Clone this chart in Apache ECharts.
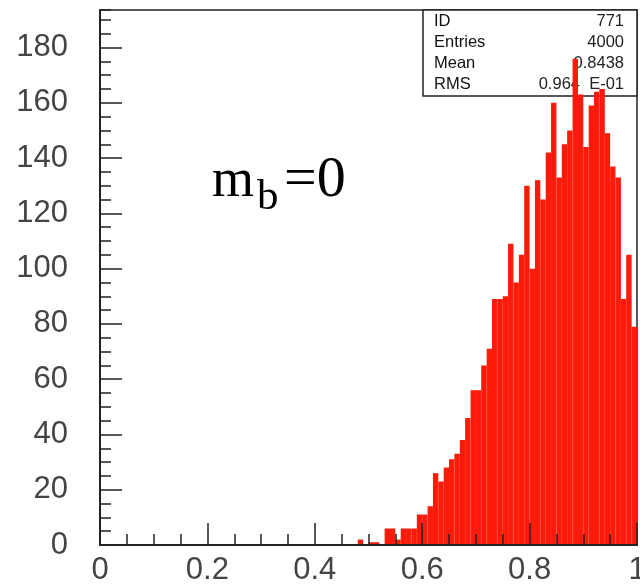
<!DOCTYPE html>
<html>
<head>
<meta charset="utf-8">
<script src="https://cdn.jsdelivr.net/npm/echarts@6/dist/echarts.min.js"></script>
<style>
  html, body { margin: 0; padding: 0; background: #fff; }
  #main { width: 640px; height: 588px; }
</style>
</head>
<body>
<div id="main"></div>
<script>
// histogram 771: 100 bins on [0,1], counts per bin
var binCounts = [
  0, 0, 0, 0, 0, 0, 0, 0, 0, 0,
  0, 0, 0, 0, 0, 0, 0, 0, 0, 0,
  0, 0, 0, 0, 0, 0, 0, 0, 0, 0,
  0, 0, 0, 0, 0, 0, 0, 0, 0, 0,
  0, 0, 0, 0, 0, 0, 0, 0, 2, 0,
  1, 1, 0, 6, 6, 2, 6, 6, 6, 11,
  11, 14, 26, 23, 28, 31, 33, 38, 46, 56,
  56, 65, 71, 89, 89, 90, 109, 95, 105, 130,
  100, 132, 125, 142, 160, 133, 145, 150, 176, 163,
  144, 159, 164, 165, 149, 137, 133, 89, 105, 79
];
var xTicks = [0, 0.2, 0.4, 0.6, 0.8, 1];
var yTicks = [0, 20, 40, 60, 80, 100, 120, 140, 160, 180];
var statNames = ['ID', 'Entries', 'Mean', 'RMS'];
var statValues = ['771', '4000', '0.8438', '0.964  E-01'];

var nBins = binCounts.length;
var binNames = [];
for (var i = 0; i < nBins; i++) {
  binNames.push(((i + 0.5) / nBins).toFixed(3));
}
var yMax = 193.6;

var axisColor = '#222';
var barColor = '#fc1a0a';
var labelStyle = { color: '#444', fontSize: 31, fontFamily: 'Liberation Sans' };

var myChart = echarts.init(document.getElementById('main'));

// stats box in the top right corner
var statsGraphics = [{
  type: 'rect',
  shape: { x: 423, y: 10, width: 214, height: 86 },
  style: { fill: '#fff', stroke: axisColor, lineWidth: 1.5 },
  z: 1
}];
for (var k = 0; k < statNames.length; k++) {
  statsGraphics.push({
    type: 'text', x: 434, y: 21 + k * 21, z: 1,
    style: { text: statNames[k], fill: '#111', font: '16.5px Liberation Sans', verticalAlign: 'middle' }
  });
  statsGraphics.push({
    type: 'text', x: 624, y: 21 + k * 21, z: 1,
    style: { text: statValues[k], fill: '#222', font: '16.5px Liberation Sans', align: 'right', verticalAlign: 'middle' }
  });
}

// m_b = 0 label
var labelGraphics = [
  { type: 'text', x: 212, y: 182, z: 1,
    style: { text: 'm', fill: '#000', font: '54px Liberation Serif', verticalAlign: 'middle' } },
  { type: 'text', x: 257, y: 198, z: 1,
    style: { text: 'b', fill: '#000', font: '43px Liberation Serif', verticalAlign: 'middle' } },
  { type: 'text', x: 284, y: 181, z: 1,
    style: { text: '=0', fill: '#000', font: '58px Liberation Serif', verticalAlign: 'middle' } }
];

myChart.setOption({
  animation: false,
  backgroundColor: '#fff',
  grid: {
    left: 100, right: 3, top: 10, bottom: 43,
    outerBoundsMode: 'none',
    containLabel: false,
    show: true, borderColor: axisColor, borderWidth: 1.5, backgroundColor: 'transparent'
  },
  graphic: statsGraphics.concat(labelGraphics),
  xAxis: [{
    type: 'category',
    data: binNames,
    show: false,
    boundaryGap: true
  }, {
    type: 'value',
    min: 0, max: 1, interval: 0.2,
    position: 'bottom',
    z: 5,
    splitLine: { show: false },
    axisLine: { lineStyle: { color: axisColor, width: 2 } },
    axisTick: { inside: true, length: 22, lineStyle: { color: axisColor, width: 1.5 } },
    axisLabel: Object.assign({ margin: 10, customValues: xTicks, hideOverlap: false,
      formatter: function (v) { return String(+v.toFixed(1)); } }, labelStyle)
  }, {
    type: 'value',
    min: 0, max: 1, interval: 0.05,
    position: 'bottom',
    z: 5,
    splitLine: { show: false },
    axisLine: { show: false },
    axisTick: { inside: true, length: 11, lineStyle: { color: axisColor, width: 1.5 } },
    axisLabel: { show: false }
  }],
  yAxis: [{
    type: 'value',
    min: 0, max: yMax, interval: 5,
    position: 'left',
    z: 5,
    splitLine: { show: false },
    axisLine: { show: true, lineStyle: { color: axisColor, width: 2 } },
    axisTick: { inside: true, length: 11, lineStyle: { color: axisColor, width: 1.5 } },
    axisLabel: { show: false }
  }, {
    type: 'value',
    min: 0, max: yMax, interval: 20,
    position: 'left',
    z: 5,
    splitLine: { show: false },
    axisLine: { show: false },
    axisTick: { inside: true, length: 22, customValues: yTicks, lineStyle: { color: axisColor, width: 1.5 } },
    axisLabel: Object.assign({ margin: 32, customValues: yTicks }, labelStyle)
  }],
  series: [{
    name: 'ID 771',
    type: 'bar',
    xAxisIndex: 0,
    yAxisIndex: 0,
    data: binCounts,
    barCategoryGap: '0%',
    barGap: '0%',
    z: 3,
    itemStyle: { color: barColor, borderColor: barColor, borderWidth: 1.2 }
  }]
});
</script>
</body>
</html>
